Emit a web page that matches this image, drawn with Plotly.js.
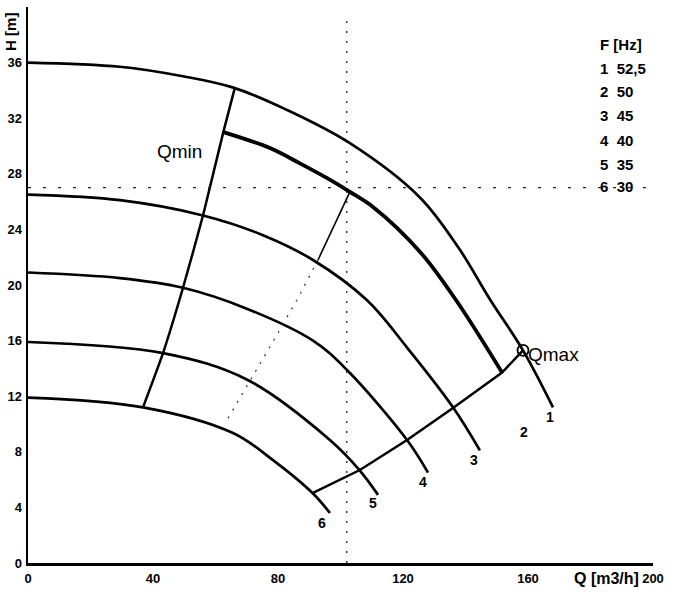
<!DOCTYPE html>
<html>
<head>
<meta charset="utf-8">
<script src="https://cdn.plot.ly/plotly-3.0.1.min.js"></script>
<style>html,body{margin:0;padding:0;background:#fff}#chart{width:683px;height:593px}</style>
</head>
<body>
<div id="chart"></div>
<script>
// Pump curves H(Q) for the different frequencies
const curveNames = ['1', '2', '3', '4', '5', '6'];
const freqs = ['52,5', '50', '45', '40', '35', '30'];

const q1 = [0, 29.4, 50, 65.7, 82.8, 103, 125.4, 138, 148, 158.4, 168];
const h1 = [36.0, 35.7, 35.0, 34.2, 32.6, 30.2, 26.3, 22.6, 18.9, 15.3, 11.2];

const q2 = [62.5, 77.4, 87, 95.6, 103, 110.5, 125.4, 137, 151.7];
const h2 = [31.0, 29.85, 28.75, 27.7, 26.7, 25.6, 22.4, 18.9, 13.7];

const q3 = [0, 29.4, 56, 75, 91.2, 108.5, 121.3, 136, 144.6];
const h3 = [26.5, 26.1, 25.0, 23.6, 21.8, 18.9, 15.5, 11.2, 8.1];

const q4 = [0, 29.4, 49.6, 70, 91.2, 102, 121.3, 128];
const h4 = [20.9, 20.5, 19.8, 18.3, 16.0, 13.9, 8.85, 6.5];

const q5 = [0, 43.2, 70, 96.6, 106, 112];
const h5 = [15.9, 15.1, 13.2, 8.85, 6.7, 4.9];

const q6 = [0, 36.8, 65.6, 78.4, 91.2, 96.6];
const h6 = [11.9, 11.2, 9.35, 7.4, 5.0, 3.6];

// Qmin and Qmax limit lines
const qMin = [66.2, 62.5, 56, 49.6, 43.2, 36.8];
const hMin = [34.2, 31.0, 25.0, 19.8, 15.1, 11.2];
const qMax = [91.2, 106.2, 121.3, 136, 151.7, 158.4];
const hMax = [5.04, 6.69, 8.85, 11.15, 13.7, 15.3];

// System / operating line
const qSysSolid = [103, 92.8];
const hSysSolid = [26.7, 21.8];
const qSysDot = [92.8, 86, 76.5, 63.7];
const hSysDot = [21.8, 18.9, 15.2, 10.3];

// Operating point crosshair
const opQ = 102;
const opH = 27;

// Curve end label positions
const labelQ = [167, 158.7, 142.7, 126.4, 110.4, 94.1];
const labelH = [10.5, 9.4, 7.4, 5.8, 4.3, 2.9];

const xTicks = [0, 40, 80, 120, 160, 200];
const yTicks = [0, 4, 8, 12, 16, 20, 24, 28, 32, 36];

const FONT = 'Liberation Sans, Arial, Helvetica, sans-serif';

const curves = [[q1, h1, 2.7], [q2, h2, 3.8], [q3, h3, 2.7], [q4, h4, 2.7], [q5, h5, 2.7], [q6, h6, 2.7]];
const traces = curves.map((c, i) => ({
  x: c[0], y: c[1], mode: 'lines', type: 'scatter',
  line: {color: '#000', width: c[2], shape: 'spline', smoothing: 1.0},
  name: curveNames[i], hoverinfo: 'skip'
}));

traces.push({x: qMin, y: hMin, mode: 'lines', line: {color: '#000', width: 2.5, shape: 'spline', smoothing: 0.5}, hoverinfo: 'skip'});
traces.push({x: qMax, y: hMax, mode: 'lines', line: {color: '#000', width: 2.5}, hoverinfo: 'skip'});
traces.push({x: qSysSolid, y: hSysSolid, mode: 'lines', line: {color: '#000', width: 1.6}, hoverinfo: 'skip'});
traces.push({x: qSysDot, y: hSysDot, mode: 'lines', line: {color: '#333', width: 1.2, dash: '2px,7px'}, hoverinfo: 'skip'});
// crosshair
traces.push({x: [opQ, opQ], y: [0, 39], mode: 'lines', line: {color: '#222', width: 1.3, dash: '2px,8px'}, hoverinfo: 'skip'});
traces.push({x: [0, 205], y: [opH, opH], mode: 'lines', line: {color: '#222', width: 1.3, dash: '3px,12px'}, hoverinfo: 'skip', cliponaxis: false});
// Qmax circle
traces.push({x: [qMax[qMax.length - 1]], y: [hMax[hMax.length - 1]], mode: 'markers',
  marker: {symbol: 'circle-open', size: 11, color: '#000', line: {width: 1.8}}, hoverinfo: 'skip', cliponaxis: false});

const annotations = [];
curveNames.forEach((n, i) => {
  annotations.push({x: labelQ[i], y: labelH[i], xref: 'x', yref: 'y', text: n, showarrow: false,
    font: {family: FONT, size: 14, color: '#000', weight: 'bold'}});
});
annotations.push({x: 48.6, y: 29.6, xref: 'x', yref: 'y', text: 'Qmin', showarrow: false,
  xanchor: 'center', yanchor: 'middle',
  font: {family: FONT, size: 19, color: '#000'}});
annotations.push({x: 168.2, y: 15.0, xref: 'x', yref: 'y', text: 'Qmax', showarrow: false,
  xanchor: 'center', yanchor: 'middle',
  font: {family: FONT, size: 19, color: '#000'}});
// Frequency legend
annotations.push({x: 182.4, y: 37.3, xref: 'x', yref: 'y', text: 'F [Hz]', showarrow: false, xanchor: 'left', yanchor: 'middle',
  font: {family: FONT, size: 15, color: '#000', weight: 'bold'}});
const rowH = [35.6, 33.9, 32.2, 30.4, 28.7, 27.1];
curveNames.forEach((n, i) => {
  annotations.push({x: 182.4, y: rowH[i], xref: 'x', yref: 'y', text: n + '&nbsp;&nbsp;' + freqs[i], showarrow: false,
    xanchor: 'left', yanchor: 'middle',
    font: {family: FONT, size: 15, color: '#000', weight: 'bold'}});
});
// Axis titles
annotations.push({x: -0.029, y: 0.955, xref: 'paper', yref: 'paper', text: 'H [m]', showarrow: false, textangle: -90,
  xanchor: 'center', yanchor: 'middle',
  font: {family: FONT, size: 15, color: '#000', weight: 'bold'}});
annotations.push({x: 0.925, y: -0.027, xref: 'paper', yref: 'paper', text: 'Q [m3/h]', showarrow: false,
  xanchor: 'center', yanchor: 'middle',
  font: {family: FONT, size: 16, color: '#000', weight: 'bold'}});

const layout = {
  width: 683, height: 593,
  margin: {l: 28, r: 30, t: 7, b: 30},
  paper_bgcolor: '#fff', plot_bgcolor: '#fff',
  showlegend: false,
  xaxis: {range: [0, 200], tickvals: xTicks, ticktext: xTicks.map(String), showgrid: false, zeroline: false,
    showline: true, linecolor: '#000', linewidth: 2.5, ticks: '', ticklabelstandoff: 2,
    tickfont: {family: FONT, size: 13, color: '#000', weight: 'bold'}},
  yaxis: {range: [0, 40], tickvals: yTicks, ticktext: yTicks.map(String), showgrid: false, zeroline: false,
    showline: true, linecolor: '#000', linewidth: 2.5, ticks: '', ticklabelstandoff: 1,
    tickfont: {family: FONT, size: 13, color: '#000', weight: 'bold'}},
  annotations: annotations
};

Plotly.newPlot('chart', traces, layout, {displayModeBar: false, staticPlot: true});
</script>
</body>
</html>
